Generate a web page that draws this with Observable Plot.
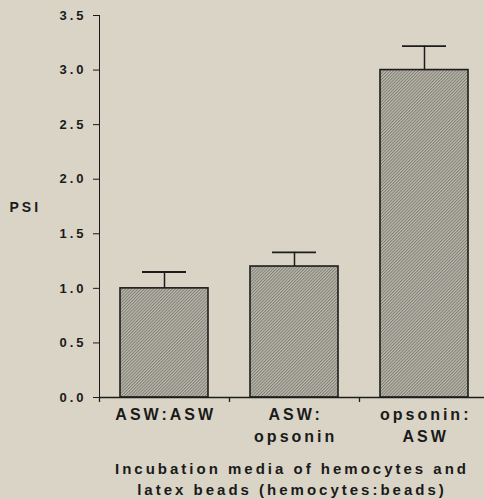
<!DOCTYPE html>
<html>
<head>
<meta charset="utf-8">
<script src="https://cdn.jsdelivr.net/npm/d3@7"></script>
<script src="https://cdn.jsdelivr.net/npm/@observablehq/plot@0.6"></script>
<style>
  html, body { margin: 0; padding: 0; background: #d9d4c5; }
  #chart svg text { font-weight: bold; }
  #chart svg g[aria-label^="y-axis"] text { font-size: 13px !important; }
  #chart svg g[aria-label="x-labels"] text { letter-spacing: 2.4px !important; }
</style>
</head>
<body>
<div id="chart"></div>
<script>
// ---- data ----
const categories = ["ASW:ASW", "ASW:opsonin", "opsonin:ASW"];
const labelLine1 = ["ASW:ASW", "ASW:", "opsonin:"];
const labelLine2 = ["", "opsonin", "ASW"];
const psi = [1.0, 1.2, 3.0];
const sem = [0.15, 0.13, 0.22];
const yTicks = [0, 0.5, 1.0, 1.5, 2.0, 2.5, 3.0, 3.5];
const yLabel = "PSI";
const xTitle = "Incubation media of hemocytes and\nlatex beads (hemocytes:beads)";

const data = categories.map((c, i) => ({cat: c, psi: psi[i], top: psi[i] + sem[i], l1: labelLine1[i], l2: labelLine2[i]}));

// ---- layout ----
const W = 484, H = 499;
const xRange = [99, 489];
const step = (xRange[1] - xRange[0]) / categories.length;

const defs = () => {
  const ns = "http://www.w3.org/2000/svg";
  const d = document.createElementNS(ns, "defs");
  d.innerHTML = `
    <pattern id="hatch" patternUnits="userSpaceOnUse" width="2.2" height="2.2" patternTransform="rotate(45)">
      <rect width="2.2" height="2.2" fill="#bdbaaf"></rect>
      <line x1="0.5" y1="0" x2="0.5" y2="2.2" stroke="#79766e" stroke-width="0.9"></line>
    </pattern>`;
  return d;
};

const chart = Plot.plot({
  width: W,
  height: H,
  marginTop: 15,
  marginBottom: 102,
  marginLeft: 99,
  marginRight: 0,
  style: {background: "#d9d4c5", fontFamily: "'Liberation Sans', Arial, sans-serif", fontSize: "13px", letterSpacing: "3px", color: "#1a1a1a"},
  x: {domain: categories, range: xRange, paddingInner: 0.323, paddingOuter: 0.1615, axis: null},
  y: {domain: [0, 3.5], ticks: yTicks, tickFormat: d3.format(".1f"), tickSize: 6, tickPadding: 7, label: null, line: true},
  marks: [
    defs,
    Plot.barY(data, {x: "cat", y: "psi", fill: "url(#hatch)", stroke: "#1c1c1c", strokeWidth: 1.6}),
    Plot.ruleX(data, {x: "cat", y1: "psi", y2: "top", stroke: "#1c1c1c", strokeWidth: 1.5}),
    Plot.tickY(data, {x: "cat", y: "top", insetLeft: 22, insetRight: 22, stroke: "#1c1c1c", strokeWidth: 1.8}),
    Plot.ruleY([0], {stroke: "#1c1c1c", strokeWidth: 1.5}),
    Plot.ruleX(categories, {x: d => d, y1: 0, y2: 0, insetBottom: -5, dx: step / 2, stroke: "#1c1c1c", strokeWidth: 1.3}),
    Plot.ruleX(categories.slice(0, 1), {x: d => d, y1: 0, y2: 0, insetBottom: -5, dx: -step / 2, stroke: "#1c1c1c", strokeWidth: 1.3}),
    Plot.text(data, {x: "cat", text: "l1", frameAnchor: "bottom", dy: 17, lineAnchor: "middle", fontSize: 16, fill: "#1a1a1a", dx: 1.2, ariaLabel: "x-labels"}),
    Plot.text(data, {x: "cat", text: "l2", frameAnchor: "bottom", dy: 39, lineAnchor: "middle", fontSize: 16, fill: "#1a1a1a", dx: 1.2, ariaLabel: "x-labels"}),
    Plot.text([yLabel], {frameAnchor: "left", textAnchor: "start", dx: -90, dy: 1, fontSize: 14, fill: "#1a1a1a"}),
    Plot.text([xTitle], {frameAnchor: "bottom", dy: 80, lineAnchor: "middle", lineHeight: 1.4, fontSize: 15, fill: "#1a1a1a"})
  ]
});
document.getElementById("chart").appendChild(chart);
</script>
</body>
</html>
